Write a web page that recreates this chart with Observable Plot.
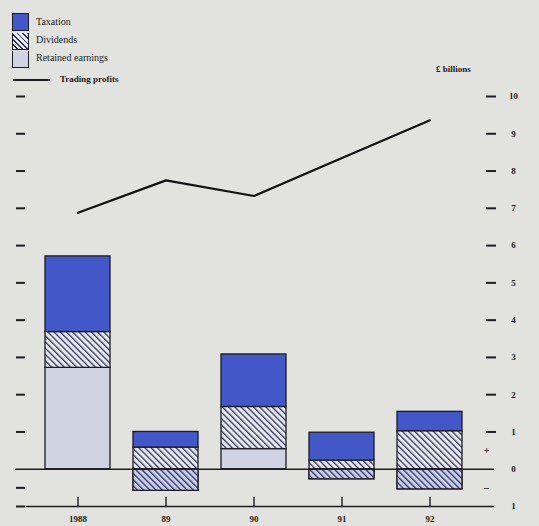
<!DOCTYPE html>
<html>
<head>
<meta charset="utf-8">
<script src="https://cdn.jsdelivr.net/npm/d3@7"></script>
<script src="https://cdn.jsdelivr.net/npm/@observablehq/plot@0.6"></script>
<style>
  html, body { margin: 0; padding: 0; background: #e2e3df; }
  #wrap { position: relative; width: 539px; height: 526px; overflow: hidden; font-family: "Liberation Serif", "DejaVu Serif", serif; color: #1c1c1c; }
  #legend { position: relative; height: 86px; }
  .sw { position: absolute; left: 12px; width: 15px; height: 16px; border: 1.5px solid #1c1c22; }
  .lt { position: absolute; left: 36px; font-size: 10px; line-height: 12px; }
  #unit { position: absolute; left: 436px; top: 64px; font-size: 9px; font-weight: bold; }
</style>
</head>
<body>
<div id="wrap">
  <div id="legend"></div>
  <div id="chart"></div>
</div>
<script>
// ---- data (£ billions) ----
const years = ["1988", "89", "90", "91", "92"];
const taxation = [2.03, 0.42, 1.41, 0.75, 0.52];
const dividends = [0.96, 1.16, 1.13, 0.50, 1.56];
const retainedEarnings = [2.72, -0.58, 0.54, -0.27, -0.54];
const tradingProfits = [6.88, 7.75, 7.33, 8.35, 9.36];
const rightTickValues = [-1, 0, 1, 2, 3, 4, 5, 6, 7, 8, 9, 10];
const signTickValues = [0.5, -0.5];
const leftTickValues = [-1, -0.5, 1, 2, 3, 4, 5, 6, 7, 8, 9, 10];
const legendLabels = ["Taxation", "Dividends", "Retained earnings"];
const lineLabel = "Trading profits";
const unitLabel = "£ billions";

const rows = years.map((year, i) => ({
  year,
  tax: taxation[i],
  div: dividends[i],
  ret: retainedEarnings[i],
  profit: tradingProfits[i]
}));

const BLUE = "#4258c8";
const LIGHT = "#cfd3e2";
const INK = "#1c1c22";
const HATCH = "#2a2f5c";

// ---- legend (HTML) ----
const legend = document.getElementById("legend");
const swFills = [
  BLUE,
  `repeating-linear-gradient(45deg, #e9ebf1 0 2.4px, ${HATCH} 2.4px 3.7px)`,
  LIGHT
];
legendLabels.forEach((lab, i) => {
  const sw = document.createElement("div");
  sw.className = "sw";
  sw.style.top = (13 + i * 18) + "px";
  sw.style.background = swFills[i];
  if (i > 0) sw.style.borderTop = "none";
  if (i > 0) { sw.style.top = (13 + i * 18 + 1.5) + "px"; sw.style.height = "16.5px"; }
  legend.appendChild(sw);
  const t = document.createElement("div");
  t.className = "lt";
  t.style.top = (16 + i * 18) + "px";
  t.textContent = lab;
  legend.appendChild(t);
});
const ln = document.createElement("div");
Object.assign(ln.style, {position: "absolute", left: "13px", top: "79px", width: "37px", height: "2px", background: INK});
legend.appendChild(ln);
const lt = document.createElement("div");
lt.className = "lt";
lt.style.left = "60px"; lt.style.top = "73px"; lt.style.fontSize = "9px"; lt.style.fontWeight = "bold";
lt.textContent = lineLabel;
legend.appendChild(lt);
const unit = document.createElement("div");
unit.id = "unit";
unit.textContent = unitLabel;
legend.appendChild(unit);

// ---- chart ----
const stroke = {stroke: INK, strokeWidth: 1.3};
const txt = {fontSize: 9, fontWeight: "bold", fill: "#1c1c1c"};

const chart = Plot.plot({
  width: 539,
  height: 440,
  marginLeft: 23,
  marginRight: 54,
  marginTop: 10,
  marginBottom: 20,
  style: {background: "transparent", fontFamily: "Liberation Serif, DejaVu Serif, serif", color: "#1c1c1c", overflow: "visible"},
  x: {domain: years, paddingInner: 0.26, paddingOuter: 0.25, axis: null},
  y: {domain: [-1, 10], axis: null},
  marks: [
    Plot.barY(rows.filter(d => d.ret > 0), {x: "year", y1: 0, y2: "ret", fill: LIGHT, ...stroke}),
    Plot.barY(rows, {x: "year", y1: "ret", y2: d => d.ret + d.div, fill: "url(#hatch-light)", ...stroke}),
    Plot.barY(rows.filter(d => d.ret < 0), {x: "year", y1: "ret", y2: 0, fill: "url(#hatch-blue)", ...stroke}),
    Plot.barY(rows, {x: "year", y1: d => d.ret + d.div, y2: d => d.ret + d.div + d.tax, fill: BLUE, ...stroke}),
    Plot.ruleY([0], {stroke: INK, strokeWidth: 1.4, insetLeft: -8, insetRight: -9}),
    Plot.ruleY([-1], {stroke: INK, strokeWidth: 1.4, insetLeft: 3, insetRight: -9}),
    Plot.ruleX(rows, {x: "year", y1: -1, y2: -0.75, stroke: INK, strokeWidth: 1.4}),
    Plot.line(rows, {x: "year", y: "profit", stroke: "#111", strokeWidth: 2.2}),
    Plot.axisY({anchor: "left", ticks: leftTickValues, tickSize: 9, dx: 2, tickFormat: () => "", label: null, stroke: INK, strokeWidth: 2}),
    Plot.axisY({anchor: "right", ticks: d3.range(1, 11), tickSize: 10, tickFormat: () => "", label: null, stroke: INK, strokeWidth: 2}),
    Plot.axisY({anchor: "right", ticks: rightTickValues, tickSize: 0, tickPadding: 28, textAnchor: "middle", tickFormat: d => String(Math.abs(d)), label: null, ...txt}),
    Plot.axisY({anchor: "right", ticks: signTickValues, tickSize: 0, tickPadding: 1, textAnchor: "middle", tickFormat: d => d > 0 ? "+" : "–", label: null, fontSize: 10, fontWeight: "bold", fill: "#1c1c1c"}),
    Plot.axisX({anchor: "bottom", tickSize: 0, tickPadding: 9, label: null, ...txt})
  ]
});

// hatch patterns
const ns = "http://www.w3.org/2000/svg";
const defs = document.createElementNS(ns, "defs");
function hatch(id, bg) {
  const p = document.createElementNS(ns, "pattern");
  p.setAttribute("id", id);
  p.setAttribute("patternUnits", "userSpaceOnUse");
  p.setAttribute("width", "4.4");
  p.setAttribute("height", "4.4");
  p.setAttribute("patternTransform", "rotate(-45)");
  const r = document.createElementNS(ns, "rect");
  r.setAttribute("width", "4.4"); r.setAttribute("height", "4.4"); r.setAttribute("fill", bg);
  const l = document.createElementNS(ns, "line");
  l.setAttribute("x1", "0.6"); l.setAttribute("y1", "0"); l.setAttribute("x2", "0.6"); l.setAttribute("y2", "4.4");
  l.setAttribute("stroke", HATCH); l.setAttribute("stroke-width", "1.3");
  p.appendChild(r); p.appendChild(l);
  defs.appendChild(p);
}
hatch("hatch-light", "#e9ebf1");
hatch("hatch-blue", "#c8cde9");
chart.insertBefore(defs, chart.firstChild);

document.getElementById("chart").appendChild(chart);
</script>
</body>
</html>
